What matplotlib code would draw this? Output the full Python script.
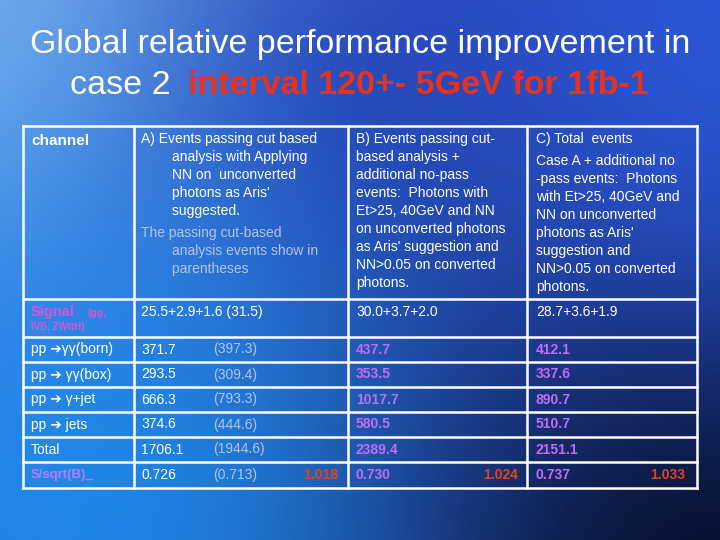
import matplotlib
matplotlib.use("Agg")
import matplotlib.pyplot as plt
import numpy as np

# ---- table content ----
channels = ["Signal", "pp \u2794\u03b3\u03b3(born)", "pp \u2794 \u03b3\u03b3(box)", "pp \u2794 \u03b3+jet",
            "pp \u2794 jets", "Total", "S/sqrt(B)_"]
col_a = ["25.5+2.9+1.6 (31.5)", "371.7", "293.5", "666.3", "374.6", "1706.1", "0.726"]
col_a_cut = ["", "(397.3)", "(309.4)", "(793.3)", "(444.6)", "(1944.6)", "(0.713)"]
col_b = ["30.0+3.7+2.0", "437.7", "353.5", "1017.7", "580.5", "2389.4", "0.730"]
col_c = ["28.7+3.6+1.9", "412.1", "337.6", "890.7", "510.7", "2151.1", "0.737"]
ratios = ["1.018", "1.024", "1.033"]

head_a = ["A) Events passing cut based", "        analysis with Applying", "        NN on  unconverted",
          "        photons as Aris'", "        suggested."]
head_a2 = ["The passing cut-based", "        analysis events show in", "        parentheses"]
head_b = ["B) Events passing cut-", "based analysis +", "additional no-pass",
          "events:  Photons with", "Et>25, 40GeV and NN", "on unconverted photons",
          "as Aris' suggestion and", "NN>0.05 on converted", "photons."]
head_c1 = "C) Total  events"
head_c = ["Case A + additional no", "-pass events:  Photons", "with Et>25, 40GeV and",
          "NN on unconverted", "photons as Aris'", "suggestion and",
          "NN>0.05 on converted", "photons."]

# layout (pixels)
col_edges = [23, 134, 348, 527, 697]
row_edges = [126, 299, 337, 362, 387, 412, 437, 462, 488]

plt.rcParams['font.family'] = ['Liberation Sans', 'DejaVu Sans']

fig = plt.figure(figsize=(7.2, 5.4), dpi=100)
ax = fig.add_axes([0, 0, 1, 1])
ax.set_xlim(0, 720)
ax.set_ylim(540, 0)
ax.axis("off")

# background gradient
yy, xx = np.mgrid[0:540, 0:720]
img = np.ones((540, 720, 3)) * np.array([0.17, 0.30, 0.82])
blobs = [
    ((0, 40), 260, (0.50, 0.72, 0.95), 1.0),
    ((400, 140), 200, (0.14, 0.20, 0.66), 0.85),
    ((120, 500), 260, (0.12, 0.55, 0.93), 0.95),
    ((720, 560), 240, (0.03, 0.06, 0.17), 1.0),
    ((720, 80), 200, (0.18, 0.38, 0.90), 0.6),
]
for (cx, cy), s, c, k in blobs:
    w = k * np.exp(-((xx - cx) ** 2 + (yy - cy) ** 2) / (2 * s ** 2))
    img = img * (1 - w[..., None]) + np.array(c) * w[..., None]
ax.imshow(np.clip(img, 0, 1), extent=(0, 720, 540, 0), aspect="auto", zorder=0)

# title
ax.text(360, 45, "Global relative performance improvement in", color="white",
        fontsize=24.5, ha="center", va="center")
ax.text(70, 86, "case 2", color="white", fontsize=24.5, ha="left", va="center")
ax.text(188, 86, "interval 120+- 5GeV for 1fb-1", color="#e8321e", fontsize=24.5,
        fontweight="bold", ha="left", va="center")

# grid lines
for x in col_edges:
    ax.plot([x, x], [row_edges[0], row_edges[-1]], color="white", lw=1.8, zorder=3)
for y in row_edges:
    ax.plot([col_edges[0], col_edges[-1]], [y, y], color="white", lw=1.8, zorder=3)

fs = 10
white = "white"
violet = "#c46cf0"
paren = "#b4c4e8"
red = "#e4421e"

# header
ax.text(31, 141, "channel", color=white, fontsize=11, fontweight="bold", va="center")
for i, line in enumerate(head_a):
    ax.text(141, 139 + 18 * i, line, color=white, fontsize=fs, va="center")
for i, line in enumerate(head_a2):
    ax.text(141, 233 + 18 * i, line, color=paren, fontsize=fs, va="center")
for i, line in enumerate(head_b):
    ax.text(356, 139 + 18 * i, line, color=white, fontsize=fs, va="center")
ax.text(536, 139, head_c1, color=white, fontsize=fs, va="center")
for i, line in enumerate(head_c):
    ax.text(536, 161 + 18 * i, line, color=white, fontsize=fs, va="center")

# body
for r in range(len(channels)):
    yc = (row_edges[r + 1] + row_edges[r + 2]) / 2
    if r == 0:
        yc = 312
        ax.text(31, yc, channels[0], color="#d855d8", fontsize=10.5, fontweight="bold", va="center")
        ax.text(88, yc + 1, "(gg,", color="#d855d8", fontsize=7.5, fontweight="bold", va="center")
        ax.text(31, yc + 15, "IVB, ZWttH)", color="#d855d8", fontsize=7, fontweight="bold", va="center")
        ax.text(141, yc, col_a[0], color=white, fontsize=fs, va="center")
        ax.text(356, yc, col_b[0], color=white, fontsize=fs, va="center")
        ax.text(536, yc, col_c[0], color=white, fontsize=fs, va="center")
        continue
    last = r == len(channels) - 1
    if last:
        ax.text(31, yc, channels[r], color="#b77cf2", fontsize=9.5, fontweight="bold", va="center")
    else:
        ax.text(31, yc, channels[r], color=white, fontsize=fs, va="center")
    ax.text(141, yc, col_a[r], color=white, fontsize=fs, va="center")
    ax.text(213, yc, col_a_cut[r], color=paren, fontsize=fs, va="center")
    ax.text(356, yc, col_b[r], color=violet, fontsize=fs, fontweight="bold", va="center")
    ax.text(536, yc, col_c[r], color=violet, fontsize=fs, fontweight="bold", va="center")
    if last:
        for x, t in zip([338, 518, 685], ratios):
            ax.text(x, yc, t, color=red, fontsize=fs, fontweight="bold", ha="right", va="center")

fig.savefig("out.png", dpi=100)
